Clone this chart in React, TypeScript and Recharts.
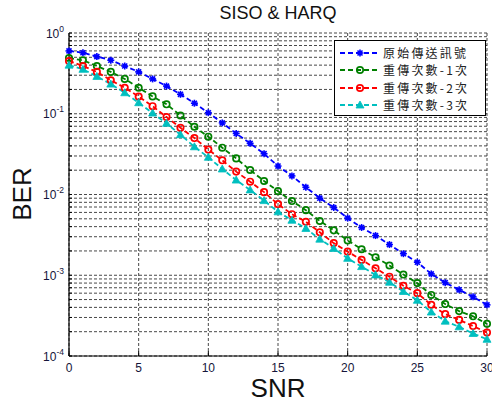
import React from "react";
import { LineChart, Line, XAxis, YAxis, CartesianGrid, Legend } from "recharts";

// SNR (dB) and bit error rate
const snr = [0, 1, 2, 3, 4, 5, 6, 7, 8, 9, 10, 11, 12, 13, 14, 15, 16, 17, 18, 19, 20, 21, 22, 23, 24, 25, 26, 27, 28, 29, 30];
const berOriginal = [
  0.6, 0.57, 0.51, 0.46, 0.39, 0.33, 0.27, 0.22, 0.174, 0.135, 0.103, 0.077, 0.057, 0.043, 0.032, 0.0225,
  0.017, 0.0123, 0.009, 0.0069, 0.0051, 0.0039, 0.0031, 0.0024, 0.00185, 0.00145, 0.00104, 0.00081, 0.00066,
  0.00054, 0.00043,
];
const berRetx1 = [
  0.49, 0.46, 0.39, 0.33, 0.27, 0.21, 0.164, 0.131, 0.095, 0.069, 0.052, 0.038, 0.028, 0.0201, 0.0147, 0.011,
  0.0083, 0.0064, 0.0047, 0.0036, 0.0027, 0.0021, 0.00167, 0.00132, 0.00102, 0.0008, 0.00057, 0.00044, 0.00036,
  0.00031, 0.00025,
];
const berRetx2 = [
  0.45, 0.39, 0.33, 0.26, 0.21, 0.163, 0.124, 0.091, 0.067, 0.05, 0.036, 0.0265, 0.0192, 0.0144, 0.0107, 0.0076,
  0.0057, 0.0046, 0.0034, 0.0025, 0.00196, 0.00155, 0.00122, 0.00096, 0.00074, 0.0006, 0.00043, 0.00033, 0.00028,
  0.000235, 0.000195,
];
const berRetx3 = [
  0.4, 0.355, 0.29, 0.233, 0.182, 0.137, 0.102, 0.076, 0.055, 0.039, 0.0289, 0.0207, 0.0151, 0.0114, 0.0084,
  0.0061, 0.0048, 0.0038, 0.0028, 0.00215, 0.00162, 0.00128, 0.00101, 0.00082, 0.00063, 0.00049, 0.00035,
  0.00027, 0.00023, 0.00019, 0.000161,
];
const seriesNames = ["原始傳送訊號", "重傳次數-1次", "重傳次數-2次", "重傳次數-3次"];
const xTicks = [0, 5, 10, 15, 20, 25, 30];
const decades = [-4, -3, -2, -1];
const mantissas = [1, 2, 3, 4, 5, 6, 7, 8, 9];
const yTicks = [...decades.flatMap((d) => mantissas.map((m) => m * Math.pow(10, d))), 1];

const data = snr.map((s, i) => ({
  snr: s,
  original: berOriginal[i],
  retx1: berRetx1[i],
  retx2: berRetx2[i],
  retx3: berRetx3[i],
}));

const FONT = "Arial, 'Liberation Sans', Helvetica, sans-serif";
const CJK = "'Noto Sans CJK TC', 'Noto Sans CJK SC', sans-serif";
const TICK_COLOR = "#15153a";

type MarkerKind = "star" | "circle" | "triangle";

const series: { key: string; color: string; marker: MarkerKind }[] = [
  { key: "original", color: "#0000ff", marker: "star" },
  { key: "retx1", color: "#008000", marker: "circle" },
  { key: "retx2", color: "#ff0000", marker: "circle" },
  { key: "retx3", color: "#00bfbf", marker: "triangle" },
];

function Marker({ cx, cy, color, kind }: { cx: number; cy: number; color: string; kind: MarkerKind }) {
  if (kind === "star") {
    const r = 3.5;
    const d = r * 0.72;
    return (
      <g stroke={color} strokeWidth={1.6}>
        <circle cx={cx} cy={cy} r={2.2} fill={color} stroke="none" />
        <line x1={cx - r} y1={cy} x2={cx + r} y2={cy} />
        <line x1={cx} y1={cy - r} x2={cx} y2={cy + r} />
        <line x1={cx - d} y1={cy - d} x2={cx + d} y2={cy + d} />
        <line x1={cx - d} y1={cy + d} x2={cx + d} y2={cy - d} />
      </g>
    );
  }
  if (kind === "circle") {
    return <circle cx={cx} cy={cy} r={3.2} fill="none" stroke={color} strokeWidth={1.7} />;
  }
  return (
    <path
      d={`M${cx},${cy - 4} L${cx + 4},${cy + 3} L${cx - 4},${cy + 3} Z`}
      fill={color}
      stroke={color}
      strokeWidth={0.8}
    />
  );
}

function YTick({ x, y, payload }: any) {
  const lg = Math.log10(payload.value);
  const e = Math.round(lg);
  if (Math.abs(lg - e) > 1e-6) return <g />;
  return (
    <text x={x} y={y + 4.5} textAnchor="end" fontSize={12} fill={TICK_COLOR} fontFamily={FONT}>
      10
      <tspan dy={-6} fontSize={8.5}>
        {e}
      </tspan>
    </text>
  );
}

function LegendBox() {
  return (
    <div
      style={{
        width: 152,
        height: 76,
        border: "1px solid #000",
        background: "#fff",
        boxSizing: "border-box",
        paddingTop: 3,
      }}
    >
      {series.map((s, i) => (
        <div key={s.key} style={{ display: "flex", alignItems: "center", height: 17.5 }}>
          <svg width={48} height={12} style={{ display: "block" }}>
            <line x1={5} y1={6} x2={44} y2={6} stroke={s.color} strokeWidth={1.8} strokeDasharray="5 3" />
            <Marker cx={25} cy={6} color={s.color} kind={s.marker} />
          </svg>
          <span
            style={{
              fontFamily: CJK,
              fontSize: 12,
              letterSpacing: 2.2,
              lineHeight: "14px",
              color: "#222",
              whiteSpace: "nowrap",
            }}
          >
            {seriesNames[i]}
          </span>
        </div>
      ))}
    </div>
  );
}

export default function App() {
  return (
    <div
      style={{
        position: "absolute",
        left: 0,
        top: 0,
        width: 492,
        height: 405,
        background: "#fff",
        fontFamily: FONT,
      }}
    >
      <div
        style={{
          position: "absolute",
          left: 0,
          width: 556,
          top: 3,
          textAlign: "center",
          fontSize: 18,
          lineHeight: "20px",
          color: "#111",
          fontFamily: FONT,
        }}
      >
        SISO &amp; HARQ
      </div>
      <div
        style={{
          position: "absolute",
          left: 22,
          top: 194,
          transform: "translate(-50%, -50%) rotate(-90deg)",
          fontSize: 26,
          lineHeight: "26px",
          color: "#111",
          whiteSpace: "nowrap",
        }}
      >
        BER
      </div>
      <div
        style={{
          position: "absolute",
          left: 278,
          top: 388,
          transform: "translate(-50%, -50%)",
          fontSize: 26,
          lineHeight: "24px",
          color: "#111",
        }}
      >
        SNR
      </div>
      <LineChart width={492} height={405} data={data} margin={{ top: 33, right: 5, bottom: 0, left: 0 }}>
        <CartesianGrid stroke="#333" strokeDasharray="3 2" strokeWidth={0.9} />
        <XAxis
          dataKey="snr"
          type="number"
          domain={[0, 30]}
          ticks={xTicks}
          height={49}
          tickLine={{ stroke: "#000" }}
          tickSize={-5}
          tickMargin={12}
          axisLine={{ stroke: "#000", strokeWidth: 1.2 }}
          tick={{ fontSize: 12, fill: TICK_COLOR, fontFamily: FONT }}
          interval={0}
        />
        <XAxis
          xAxisId="top"
          orientation="top"
          dataKey="snr"
          type="number"
          domain={[0, 30]}
          height={0}
          tick={false}
          tickLine={false}
          axisLine={{ stroke: "#000", strokeWidth: 1 }}
        />
        <YAxis
          scale="log"
          domain={[0.0001, 1]}
          allowDataOverflow
          ticks={yTicks}
          interval={0}
          width={69}
          tickLine={{ stroke: "#000" }}
          tickSize={-3}
          tickMargin={8}
          axisLine={{ stroke: "#000", strokeWidth: 1.2 }}
          tick={<YTick />}
        />
        <YAxis
          yAxisId="right"
          orientation="right"
          scale="log"
          domain={[0.0001, 1]}
          width={0}
          tick={false}
          tickLine={false}
          axisLine={{ stroke: "#000", strokeWidth: 1 }}
        />
        <Legend
          layout="vertical"
          align="center"
          verticalAlign="middle"
          wrapperStyle={{ left: 334, top: 40, width: 152 }}
          content={() => <LegendBox />}
        />
        {series.map((s, i) => (
          <Line
            key={s.key}
            name={seriesNames[i]}
            dataKey={s.key}
            type="linear"
            stroke={s.color}
            strokeWidth={1.8}
            strokeDasharray="5 3"
            isAnimationActive={false}
            activeDot={false}
            dot={(p: any) => (
              <Marker key={`${s.key}-${p.index}`} cx={p.cx} cy={p.cy} color={s.color} kind={s.marker} />
            )}
          />
        ))}
      </LineChart>
    </div>
  );
}
